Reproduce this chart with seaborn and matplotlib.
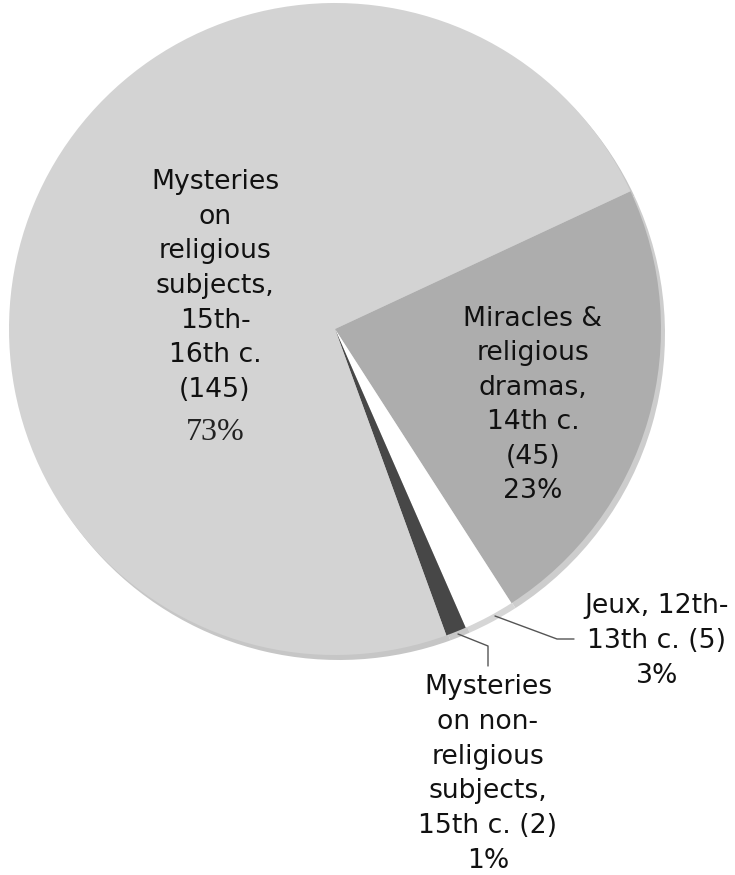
import matplotlib
matplotlib.use("Agg")
import matplotlib.pyplot as plt
import seaborn as sns

# slices, in clockwise order starting at the upper right
categories = [
    "Miracles &\nreligious\ndramas,\n14th c.\n(45)",
    "Jeux, 12th-\n13th c. (5)",
    "Mysteries\non non-\nreligious\nsubjects,\n15th c. (2)",
    "Mysteries\non\nreligious\nsubjects,\n15th-\n16th c.\n(145)",
]
counts = [45, 5, 2, 145]
pct_labels = ["23%", "3%", "1%", "73%"]
colors = ["#adadad", "#ffffff", "#474747", "#d3d3d3"]
rim_colors = ["#cdcdcd", "#d6d6d6", "#c8c8c8", "#c6c6c6"]

W, H = 735, 875
sns.set_theme(style="white")
plt.rcParams["font.family"] = ["DejaVu Sans"]

fig = plt.figure(figsize=(W / 100, H / 100), dpi=100)
ax = fig.add_axes([0, 0, 1, 1])


def px(x, y):
    # pixel position (from top-left) -> data coords
    return x, H - y


cx, cy = px(335, 329)
R = 326
# 3d-ish rim under the pie
ax.pie(counts, colors=rim_colors, startangle=25, counterclock=False,
       center=(cx + 4, cy - 5), radius=R, wedgeprops=dict(linewidth=0))
ax.pie(counts, colors=colors, startangle=25, counterclock=False,
       center=(cx, cy), radius=R, wedgeprops=dict(linewidth=0))

ax.set_xlim(0, W)
ax.set_ylim(0, H)
ax.set_aspect("equal")
ax.axis("off")

fs = 19.2
txt = dict(ha="center", va="center", fontsize=fs, color="#111111", linespacing=1.43)

ax.text(*px(533, 405), categories[0] + "\n" + pct_labels[0], **txt)
ax.text(*px(657, 641), categories[1] + "\n" + pct_labels[1], **txt)
ax.text(*px(488, 774), categories[2] + "\n" + pct_labels[2], **txt)
ax.text(*px(215, 286), categories[3], **txt)
ax.text(*px(215, 432), pct_labels[3], ha="center", va="center", fontsize=23,
        color="#222222", family=["Liberation Serif"])

# leader lines
lc = dict(color="#555555", lw=1)
xs, ys = zip(px(495, 616), px(557, 639), px(574, 639))
ax.plot(xs, ys, **lc)
xs, ys = zip(px(458, 634), px(488, 646), px(488, 666))
ax.plot(xs, ys, **lc)

fig.savefig("out.png", dpi=100)
